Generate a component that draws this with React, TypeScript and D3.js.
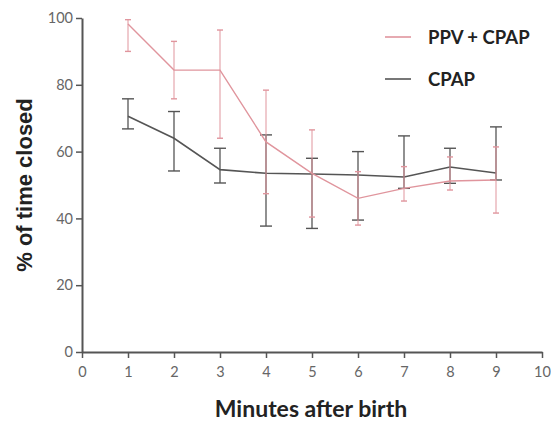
import React, { useEffect, useRef } from 'react';
import * as d3 from 'd3';

const minutes = [1, 2, 3, 4, 5, 6, 7, 8, 9];
const ppvMean = [98.2, 84.4, 84.4, 62.9, 53.5, 46, 49, 51.2, 51.5];
const ppvHigh = [99.5, 93, 96.4, 78.4, 66.5, 54, 55.5, 58.4, 61.4];
const ppvLow = [90, 75.8, 64, 47.4, 40.4, 38, 45.2, 48.5, 41.6];
const cpapMean = [70.6, 64, 54.6, 53.5, 53.3, 53, 52.4, 55.4, 53.6];
const cpapHigh = [75.8, 72, 61, 65, 58, 60, 64.7, 61, 67.4];
const cpapLow = [66.8, 54.2, 50.6, 37.7, 37, 39.5, 49, 50.5, 51.5];
const xTicks = [0, 1, 2, 3, 4, 5, 6, 7, 8, 9, 10];
const yTicks = [0, 20, 40, 60, 80, 100];

const PINK = '#e0959d';
const GRAY = '#555555';

const App = () => {
  const ref = useRef<SVGSVGElement>(null);

  useEffect(() => {
    const svg = d3.select(ref.current);
    svg.selectAll('*').remove();
    const font = 'Lato, "Open Sans", sans-serif';

    const x = d3.scaleLinear().domain([0, 10]).range([82, 542]);
    const y = d3.scaleLinear().domain([0, 100]).range([352, 18]);

    // axes
    const xAxis = svg.append('g')
      .attr('transform', `translate(0,${y(0)})`)
      .call(d3.axisBottom(x).tickValues(xTicks).tickSize(6).tickSizeOuter(0).tickPadding(9));
    const yAxis = svg.append('g')
      .attr('transform', `translate(${x(0)},0)`)
      .call(d3.axisLeft(y).tickValues(yTicks).tickSize(6).tickSizeOuter(0).tickPadding(3));
    [xAxis, yAxis].forEach(a => {
      a.select('.domain').attr('stroke', GRAY).attr('stroke-width', 2);
      a.selectAll('.tick line').attr('stroke', GRAY).attr('stroke-width', 1.5);
      a.selectAll('.tick text').attr('fill', '#666').attr('font-size', 14.5).attr('font-family', font);
    });

    const series = [
      { mean: cpapMean, hi: cpapHigh, lo: cpapLow, color: GRAY, width: 1.6, bar: 1.3, cap: 6 },
      { mean: ppvMean, hi: ppvHigh, lo: ppvLow, color: PINK, width: 1.4, bar: 1, cap: 3 },
    ];

    series.forEach(s => {
      const g = svg.append('g');
      minutes.forEach((m, i) => {
        const cx = x(m);
        g.append('line').attr('x1', cx).attr('x2', cx)
          .attr('y1', y(s.hi[i])).attr('y2', y(s.lo[i]))
          .attr('stroke', s.color).attr('stroke-width', s.bar);
        [s.hi[i], s.lo[i]].forEach(v => {
          g.append('line').attr('x1', cx - s.cap).attr('x2', cx + s.cap)
            .attr('y1', y(v)).attr('y2', y(v))
            .attr('stroke', s.color).attr('stroke-width', 1.4);
        });
      });
      const line = d3.line<number>().x((_, i) => x(minutes[i])).y(d => y(d));
      g.append('path').attr('d', line(s.mean)).attr('fill', 'none')
        .attr('stroke', s.color).attr('stroke-width', s.width);
    });

    // legend
    const legend = [
      { label: 'PPV + CPAP', color: PINK, yPos: 37 },
      { label: 'CPAP', color: GRAY, yPos: 79 },
    ];
    legend.forEach(l => {
      svg.append('line').attr('x1', 385).attr('x2', 411).attr('y1', l.yPos).attr('y2', l.yPos)
        .attr('stroke', l.color).attr('stroke-width', 1.6);
      svg.append('text').attr('x', 428).attr('y', l.yPos + 7).text(l.label)
        .attr('font-family', font).attr('font-weight', 'bold').attr('font-size', 18.5).attr('fill', '#222');
    });

    // axis titles
    svg.append('text').attr('x', 311).attr('y', 417).attr('text-anchor', 'middle')
      .text('Minutes after birth').attr('font-family', font).attr('font-weight', 'bold')
      .attr('font-size', 23).attr('fill', '#222');
    svg.append('text').attr('transform', `translate(32,185) rotate(-90)`).attr('text-anchor', 'middle')
      .text('% of time closed').attr('font-family', '"Liberation Sans", Arial, sans-serif').attr('font-weight', 'bold')
      .attr('font-size', 22).attr('fill', '#222');
  }, []);

  return (
    <svg ref={ref} width={551} height={423} style={{ position: 'absolute', left: 0, top: 0, background: '#fff' }} />
  );
};

export default App;
